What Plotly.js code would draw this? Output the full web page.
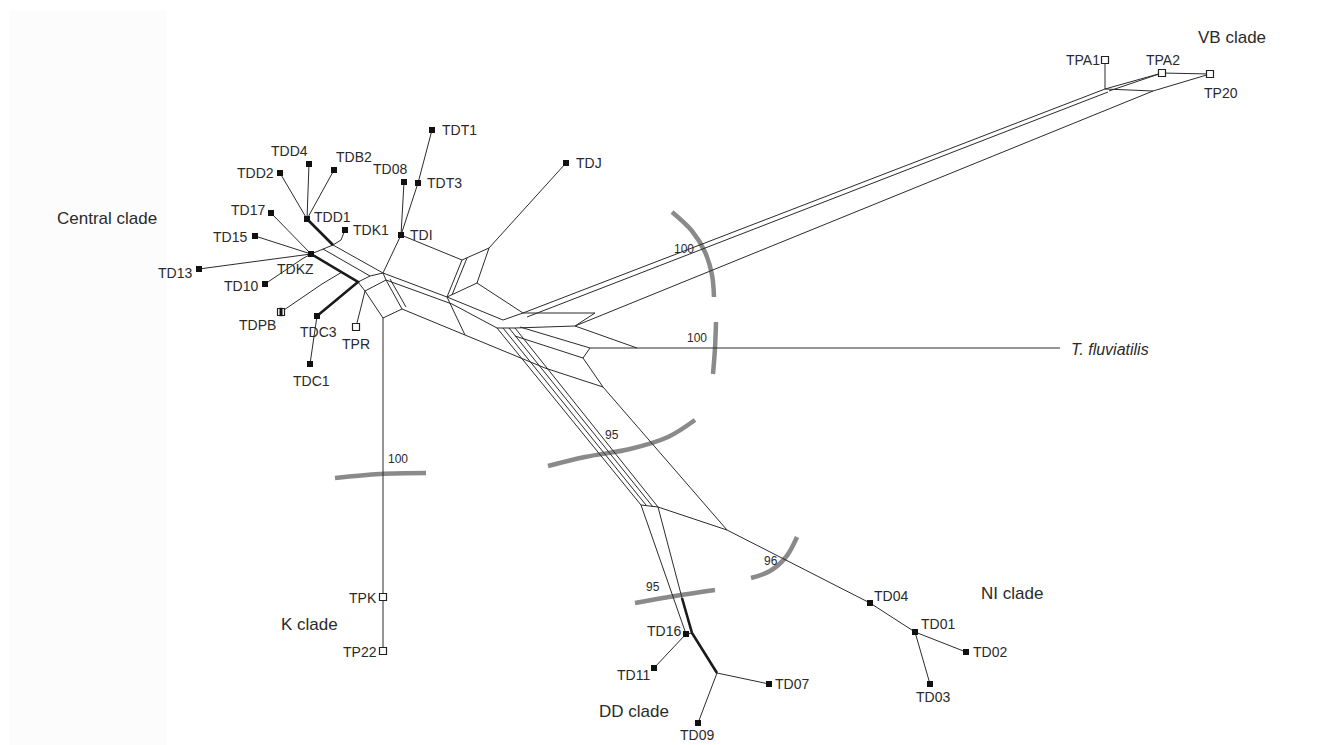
<!DOCTYPE html>
<html><head><meta charset="utf-8">
<script src="https://cdn.plot.ly/plotly-3.0.1.min.js"></script>
<style>body{margin:0;background:#fff}#chart{width:1341px;height:745px}</style>
</head><body><div id="chart"></div>
<script>
// ---- node table (network drawn in picture units) ----
const nodeName = ["TDD4","TDD2","TDB2","TDD1","TDK1","TD17","TD15","TD13","TDKZ","TD10","TDPB","TDC3","TDC1","TPR","TDI","TD08","TDT3","TDT1","TDJ","TPA1","TPA2","TP20","TPK","TP22","TFLU","TD04","TD01","TD02","TD03","TD16","TD11","TD07","TD09",
 "c1","c2","c3","p2","q2","a3","J1","c4","c4b","B1","B2","B3","B4","B2b","B3b","J2","J2b","J3","J3b","J4","J5",
 "H1","T2","L1","L2","NIj","V0","V0b","V1","V2","VBa","VBb","VBc","TPA2j","D1s","D2s","D3s","D4s","D1e","D2e","D3e","D4e","F1","F2","F3","F4","F5","NIk","NIm","DDa","DDj","DDm"];
const nodeX = [309,280,334,307,345,271,255,199,311,265,281,317,310,356,401,404,418,432,566,1105,1162,1210,383,383,1060,870,915,966,930,686,654,769,698,
 333,341,302,323,370,358,383,322,342,365,386,402,383,390,406,462,467,447,452,489,477,
 503,452,465,545,603,523,527,595,575,1105,1108,1153,1109,497,503,509,515,641,646,653,658,520,590,515,583,637,727,780,692,717,682];
const nodeY = [164,173,170,219,230,213,236,269,254,284,312,316,364,327,235,182,183,130,163,60,73,74,597,651,348,603,632,652,684,634,668,684,723,
 245,240,259,249,276,282,273,284,272,291,280,309,318,279,307,260,258,297,295,248,283,
 320,304,335,368,387,313,317,313,326,89,92,91,91,328,328,328,328,505,505,507,507,327,348,336,358,348,530,557,633,673,598];

// ---- network edges (polylines through named nodes) ----
const thinPaths = [
 ["TDD4","TDD1"],["TDD2","TDD1"],["TDB2","TDD1"],["TDK1","c2","c1"],
 ["TD13","TDKZ"],["TD15","TDKZ"],["TD17","TDKZ"],["TD10","c3","TDKZ"],
 ["TDKZ","p2","c1"],["p2","q2"],["c1","J1"],["a3","q2","J1"],
 ["TDC3","TDC1"],["TDPB","c4","c4b"],
 ["a3","B1","B2","B3","B4","B1"],["J1","B2"],["B2b","B3b"],["TPR","B1"],
 ["TDT1","TDT3","TDI"],["TD08","TDI"],["TDI","J1"],["TDI","J2","J4","J5","J3","J2"],["J2b","J3b"],["J4","TDJ"],
 ["J1","J3","H1"],["B2","T2","D1s"],["B3","L1","L2","NIj"],["J3","L1"],["J5","V0"],
 ["H1","V0"],["V0","VBa"],["V0b","VBb"],["V0","V1","V2","VBc"],
 ["TPA1","VBa"],["VBa","TPA2"],["TPA2j","TPA2"],["VBa","VBc","TP20"],["TPA2","TP20"],
 ["D1s","D4s","V2"],["D1s","D1e"],["D2s","D2e"],["D3s","D3e"],["D4s","D4e"],["D1e","D4e"],
 ["F1","F2","TFLU"],["F3","F4","F2"],["V2","F5"],
 ["F4","NIj","NIk","NIm","TD04","TD01","TD02"],["TD01","TD03"],["D4e","NIk"],
 ["D1e","TD16"],["D4e","DDm"],["TD16","TD11"],["TD16","DDa"],["DDj","TD07"],["DDj","TD09"],["TPK","TP22"],["B4","TPK"]
];
const thickPaths = [["TDD1","c1"],["TDKZ","a3","TDC3"],["DDm","DDa","DDj"]];

// ---- taxa (markers + labels) ----
const filledTaxa = ["TDD4","TDD2","TDB2","TDD1","TDK1","TD17","TD15","TD13","TDKZ","TD10","TDC3","TDC1","TDI","TD08","TDT3","TDT1","TDJ","TD04","TD01","TD02","TD03","TD16","TD11","TD07","TD09"];
const openTaxa = ["TPA1","TPA2","TP20","TPK","TP22","TPR","TDPB"];
const halfTaxa = ["TDPB"];
const tipLabels = ["TPA1","TPA2","TP20","TDT1","TDJ","TDD4","TDB2","TDD2","TD08","TDT3","TD17","TDD1","TDK1","TDI","TD15","TDKZ","TD13","TD10","TDPB","TDC3","TPR","TDC1","TPK","TP22","TD04","TD01","TD02","TD03","TD16","TD11","TD07","TD09"];
const cladeLabels = ["VB clade","Central clade","K clade","DD clade","NI clade"];
const outgroupLabel = "T. fluviatilis";
const supportValues = ["100","100","95","96","95","100"];
// bootstrap arcs (picture units)
const arcX = [[672,692,705,712,714],[716,715,713],[548,585,630,668,695],[751,770,786,797],[635,675,715],[335,380,426]];
const arcY = [[212,231,252,275,297],[322,348,374],[466,457,449,437,420],[578,571,557,537],[603,596,590],[478,474,473]];

// ---- layout-only placement of labels (picture units) ----
const labelPos = {TPA1:[1083,60],TPA2:[1163,60],TP20:[1221,93],TDT1:[459,130],TDJ:[589,163],TDD4:[289,151],TDB2:[354,157],TDD2:[255,173],TD08:[390,169],TDT3:[444,183],TD17:[248,210],TDD1:[332,217],TDK1:[371,230],TDI:[421,235],TD15:[230,237],TDKZ:[295,269],TD13:[175,273],TD10:[241,286],TDPB:[257,325],TDC3:[318,332],TPR:[356,344],TDC1:[311,381],TPK:[363,598],TP22:[360,652],TD04:[891,596],TD01:[938,624],TD02:[990,652],TD03:[933,697],TD16:[664,631],TD11:[633,675],TD07:[792,684],TD09:[697,735]};
const cladePos = [[1232,37],[107,218],[309,624],[634,711],[1012,593]];
const supportPos = [[684,249],[697,338],[612,435],[771,561],[653,587],[398,459]];
const outgroupPos = [1110,349];

const idx = {}; nodeName.forEach((n,i)=>idx[n]=i);
function pathsTrace(paths, width, color){
  const x=[],y=[];
  paths.forEach(p=>{p.forEach(n=>{x.push(nodeX[idx[n]]);y.push(nodeY[idx[n]]);});x.push(null);y.push(null);});
  return {type:'scatter',mode:'lines',x,y,line:{color,width},hoverinfo:'skip',showlegend:false};
}
const traces=[];
arcX.forEach((ax,i)=>traces.push({type:'scatter',mode:'lines',x:ax,y:arcY[i],line:{color:'#8a8a8a',width:4.5,shape:'spline'},hoverinfo:'skip',showlegend:false}));
traces.push(pathsTrace(thinPaths,1,'#2b2b2b'));
traces.push(pathsTrace(thickPaths,2.6,'#1a1a1a'));
traces.push({type:'scatter',mode:'markers',x:filledTaxa.map(n=>nodeX[idx[n]]),y:filledTaxa.map(n=>nodeY[idx[n]]),
  marker:{symbol:'square',size:6,color:'#111'},hoverinfo:'skip',showlegend:false});
traces.push({type:'scatter',mode:'markers',x:openTaxa.map(n=>nodeX[idx[n]]),y:openTaxa.map(n=>nodeY[idx[n]]),
  marker:{symbol:'square',size:7,color:'#fff',line:{color:'#222',width:1.2}},hoverinfo:'skip',showlegend:false});
traces.push({type:'scatter',mode:'markers',x:halfTaxa.map(n=>nodeX[idx[n]]),y:halfTaxa.map(n=>nodeY[idx[n]]),
  marker:{symbol:'line-ns',size:6,line:{color:'#111',width:3}},hoverinfo:'skip',showlegend:false});

const font='Liberation Sans, Arial, sans-serif';
const ann=[];
tipLabels.forEach(t=>{const p=labelPos[t];ann.push({x:p[0],y:p[1],text:t,showarrow:false,xanchor:'center',yanchor:'middle',font:{family:font,size:14,color:'#2a2a2a'}});});
cladeLabels.forEach((t,i)=>ann.push({x:cladePos[i][0],y:cladePos[i][1],text:t,showarrow:false,xanchor:'center',yanchor:'middle',font:{family:font,size:17,color:'#2a2a2a'}}));
supportValues.forEach((t,i)=>ann.push({x:supportPos[i][0],y:supportPos[i][1],text:t,showarrow:false,xanchor:'center',yanchor:'middle',font:{family:font,size:12,color:'#2a2a2a'}}));
ann.push({x:outgroupPos[0],y:outgroupPos[1],text:'<i>'+outgroupLabel+'</i>',showarrow:false,xanchor:'center',yanchor:'middle',font:{family:font,size:16,color:'#2a2a2a'}});

const layout={width:1341,height:745,margin:{l:0,r:0,t:0,b:0},paper_bgcolor:'#fff',plot_bgcolor:'#fff',
 xaxis:{range:[0,1341],visible:false,fixedrange:true},yaxis:{range:[745,0],visible:false,fixedrange:true},
 showlegend:false,annotations:ann,
 shapes:[{type:'rect',xref:'x',yref:'y',x0:9,x1:167,y0:10,y1:745,fillcolor:'#fcfcfc',line:{width:0},layer:'below'}]};
Plotly.newPlot('chart',traces,layout,{displayModeBar:false,staticPlot:true});
</script></body></html>
